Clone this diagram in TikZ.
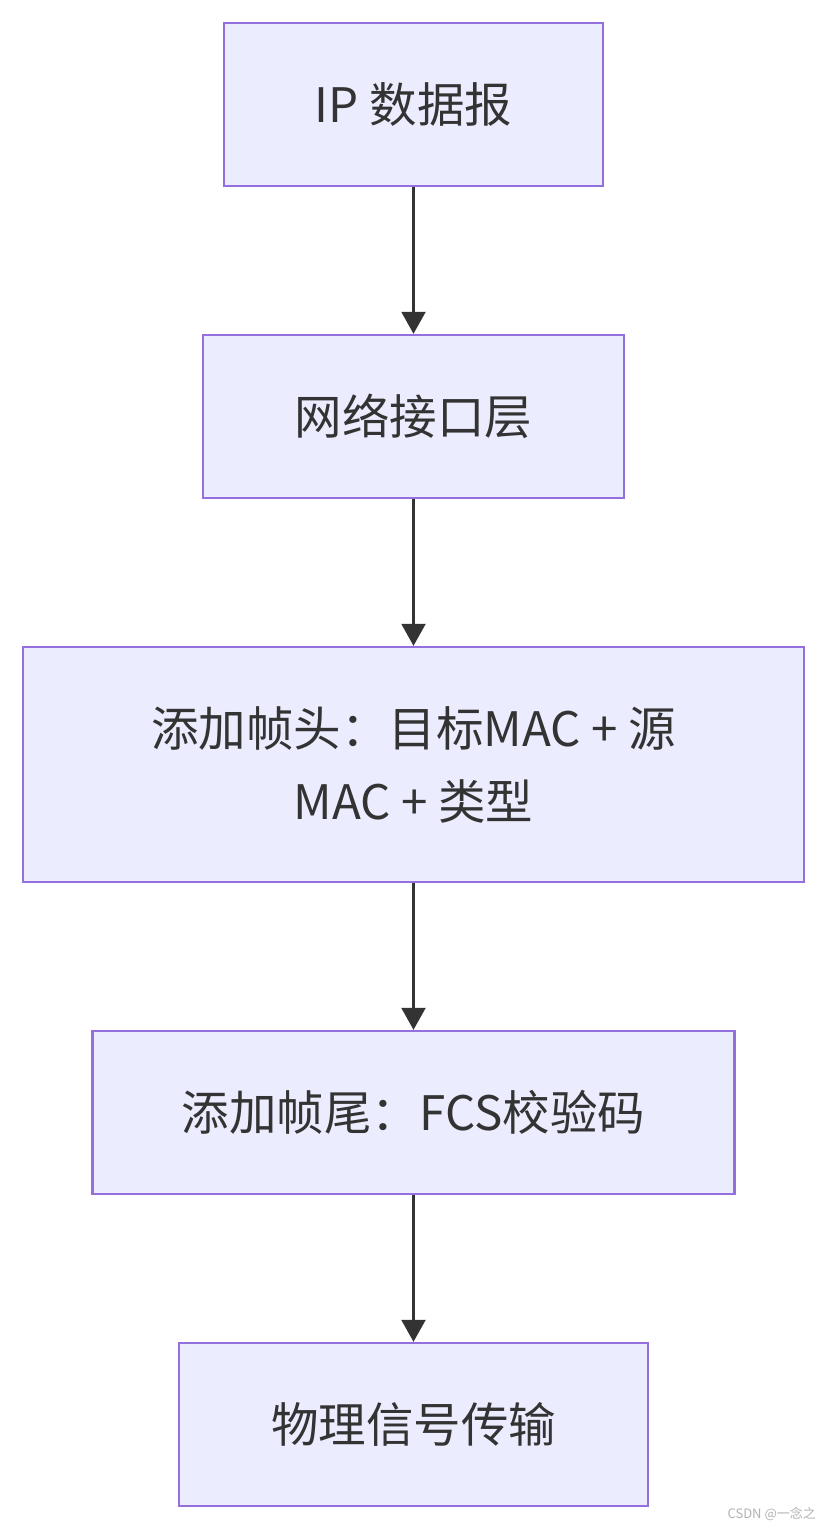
\documentclass[tikz,border=0pt]{standalone}
\usepackage{fontspec}
\setmainfont{Noto Sans CJK SC}
\usetikzlibrary{arrows.meta}
\definecolor{boxfill}{HTML}{ECECFF}
\definecolor{boxline}{HTML}{9370DB}
\definecolor{arrowc}{HTML}{333333}
\begin{document}
\begin{tikzpicture}[x=1pt,y=-1pt,
  stepbox/.style={draw=boxline,fill=boxfill,line width=2.4pt,inner sep=0pt,text=arrowc,
    font=\fontsize{47.5}{73}\selectfont,align=center},
  flow/.style={draw=arrowc,line width=2.2pt,-{Triangle[width=24pt,length=22pt]}}]
\useasboundingbox (0,0) rectangle (828,1530);
\node[stepbox,minimum width=379pt,minimum height=163pt] (a) at (413.5,104.5) {IP 数据报};
\node[stepbox,minimum width=421pt,minimum height=163pt] (b) at (413.5,416.5) {网络接口层};
\node[stepbox,minimum width=781pt,minimum height=235pt] (c) at (413.5,764.5) {添加帧头：目标MAC + 源\\MAC + 类型};
\node[stepbox,minimum width=642pt,minimum height=163pt] (d) at (413.5,1112.5) {添加帧尾：FCS校验码};
\node[stepbox,minimum width=469pt,minimum height=163pt] (e) at (413.5,1424.5) {物理信号传输};
\draw[flow] (a.south) -- (b.north);
\draw[flow] (b.south) -- (c.north);
\draw[flow] (c.south) -- (d.north);
\draw[flow] (d.south) -- (e.north);
\node[anchor=east,text=black!30,font=\fontsize{13}{15}\selectfont,inner sep=0pt] (wm) at (816,1514) {CSDN @一念之};
\end{tikzpicture}
\end{document}
